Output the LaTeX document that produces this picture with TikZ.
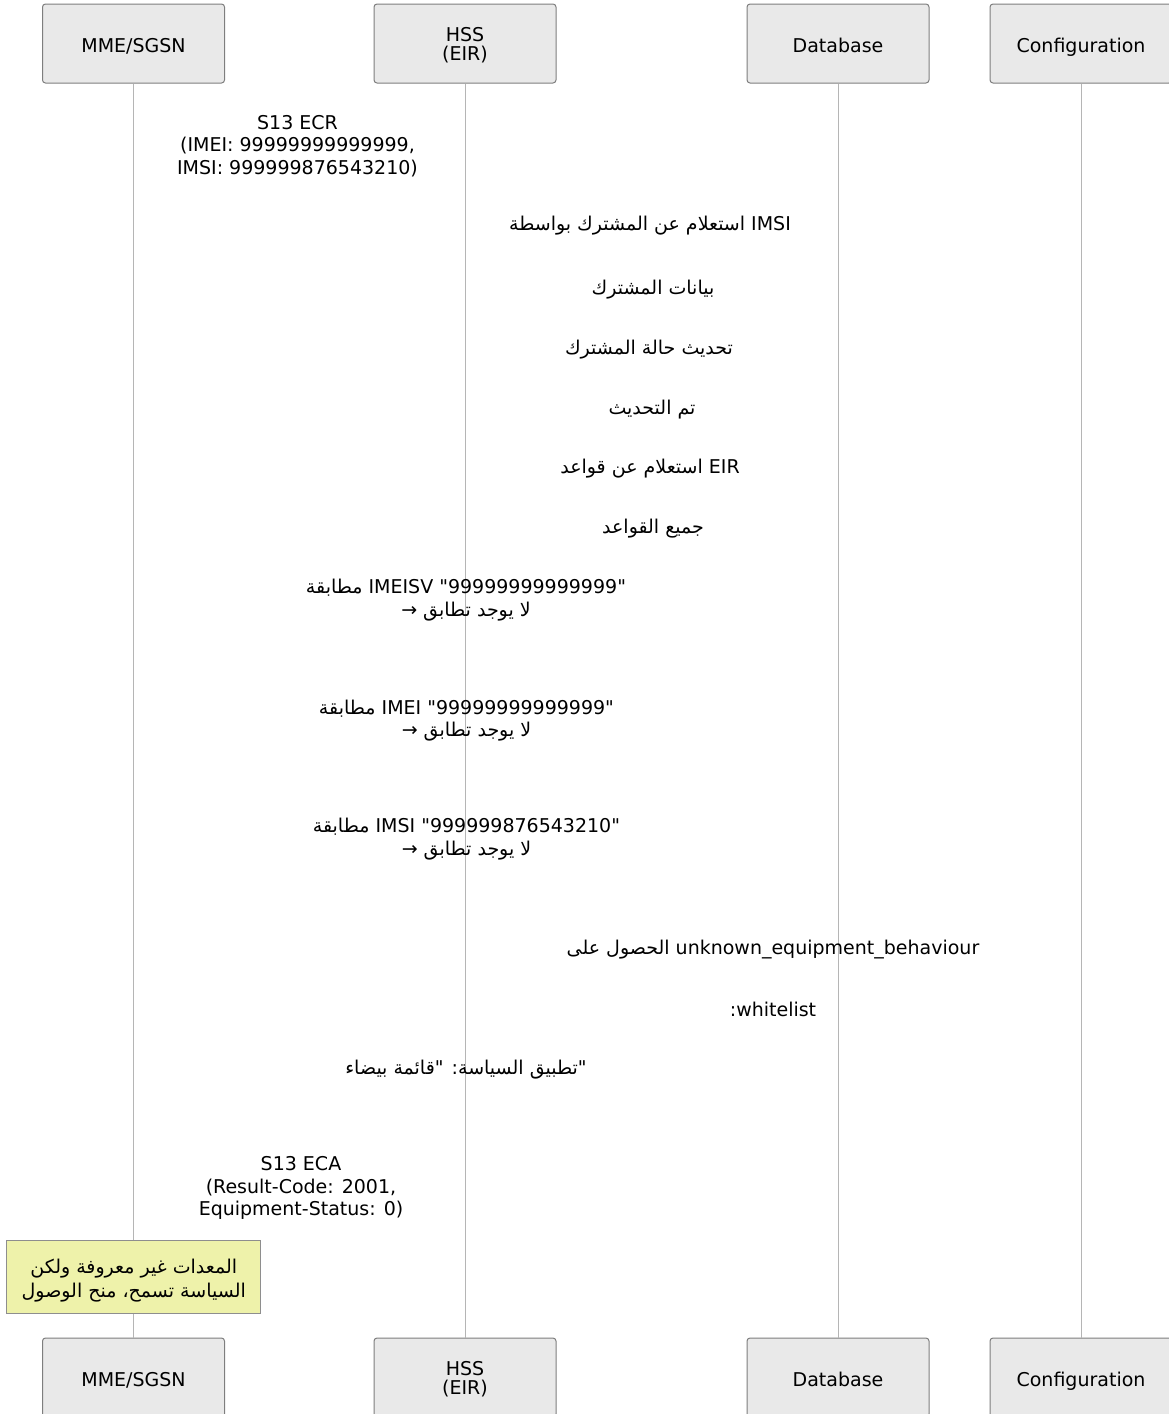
\documentclass[tikz,border=0pt]{standalone}
\usepackage{fontspec}
\setmainfont{DejaVu Sans}
\newfontfamily\dv{DejaVu Sans}
\newfontfamily\ar[Script=Arabic]{DejaVu Sans}
\TeXXeTstate=1
\definecolor{boxfill}{HTML}{E9E9E9}
\definecolor{boxborder}{HTML}{7E7E7E}
\definecolor{lifecol}{HTML}{B5B5B5}
\definecolor{notefill}{HTML}{EEF2AA}
\definecolor{noteborder}{HTML}{8E8E8E}
\newcommand\fsz{\dv\fontsize{19}{22.5}\selectfont}
\tikzset{
  actor/.style={draw=boxborder, fill=boxfill, rounded corners=3pt, line width=1pt,
    minimum width=182pt, minimum height=79pt, inner sep=0pt, align=center, font=\fsz,
    text height=18pt, text depth=1pt},
  twolbl/.style={align=center, inner sep=0pt, yshift=-1.5pt, font=\dv\fontsize{19}{19}\selectfont},
  life/.style={draw=lifecol, line width=1pt},
  msg/.style={align=center, inner sep=0pt, font=\fsz, yshift=-2.5pt},
  notebox/.style={draw=noteborder, fill=notefill, line width=1pt, minimum width=254pt,
    minimum height=73pt, inner sep=0pt},
  notetext/.style={align=center, inner sep=0pt, yshift=-3pt, font=\dv\fontsize{19}{24}\selectfont},
}
\begin{document}
\begin{tikzpicture}[x=1pt,y=-1pt]
\useasboundingbox (0,0) rectangle (1169,1414);
\clip (0,0) rectangle (1169,1414);
% participants
\node[actor] (a1) at (133.5,43.5) {MME/SGSN};
\node[actor, label={[twolbl]center:HSS\\(EIR)}] (a2) at (465,43.5) {};
\node[actor] (a3) at (838,43.5) {Database};
\node[actor] (a4) at (1081,43.5) {Configuration};
\node[actor] (b1) at (133.5,1377.5) {MME/SGSN};
\node[actor, label={[twolbl]center:HSS\\(EIR)}] (b2) at (465,1377.5) {};
\node[actor] (b3) at (838,1377.5) {Database};
\node[actor] (b4) at (1081,1377.5) {Configuration};
% lifelines
\draw[life] (a1.south) -- (b1.north);
\draw[life] (a2.south) -- (b2.north);
\draw[life] (a3.south) -- (b3.north);
\draw[life] (a4.south) -- (b4.north);
% messages
\node[msg] (m1) at (297.5,143.2) {S13 ECR\\(IMEI: 99999999999999,\\IMSI: 999999876543210)};
\node[msg] (m2) at (650,223.5) {{\ar\beginR استعلام عن المشترك بواسطة\endR} IMSI};
\node[msg] (m3) at (653,286.7) {{\ar\beginR بيانات المشترك\endR}};
\node[msg] (m4) at (649,346.7) {{\ar\beginR تحديث حالة المشترك\endR}};
\node[msg] (m5) at (652,406.7) {{\ar\beginR تم التحديث\endR}};
\node[msg] (m6) at (650,466) {{\ar\beginR استعلام عن قواعد\endR} EIR};
\node[msg] (m7) at (653,526) {{\ar\beginR جميع القواعد\endR}};
\node[msg] (m8) at (466,597.5) {{\ar\beginR مطابقة\endR} IMEISV "99999999999999"\\→ {\ar\beginR لا يوجد تطابق\endR}};
\node[msg] (m9) at (466.5,718) {{\ar\beginR مطابقة\endR} IMEI "99999999999999"\\→ {\ar\beginR لا يوجد تطابق\endR}};
\node[msg] (m10) at (466.5,836.5) {{\ar\beginR مطابقة\endR} IMSI "999999876543210"\\→ {\ar\beginR لا يوجد تطابق\endR}};
\node[msg] (m11) at (773,946.7) {{\ar\beginR الحصول على\endR} unknown\_equipment\_behaviour};
\node[msg] (m12) at (773,1006.7) {:whitelist};
\node[msg] (m13) at (466,1066.7) {{\ar\beginR تطبيق السياسة: "قائمة بيضاء\endR}"};
\node[msg] (m14) at (301,1185.5) {S13 ECA\\(Result-Code: 2001,\\Equipment-Status: 0)};
% note
\node[notebox, label={[notetext]center:{{\ar\beginR المعدات غير معروفة ولكن\endR}\\{\ar\beginR السياسة تسمح، منح الوصول\endR}}}] (n1) at (133.75,1277.3) {};
\end{tikzpicture}
\end{document}
